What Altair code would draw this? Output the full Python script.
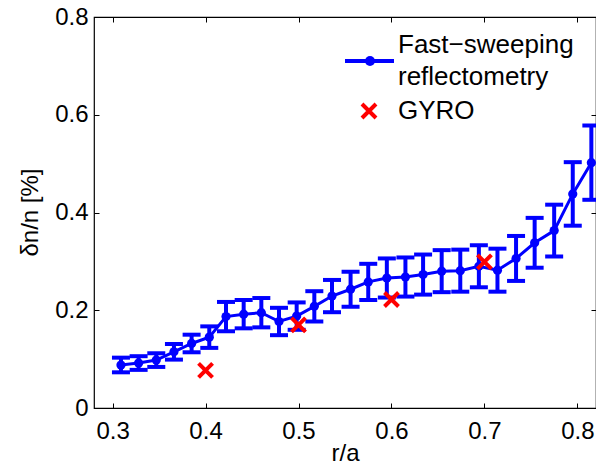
import altair as alt
import pandas as pd

# Fast-sweeping reflectometry profile
r_a = [0.309, 0.328, 0.347, 0.366, 0.385, 0.404, 0.422, 0.441, 0.460, 0.479,
       0.498, 0.517, 0.536, 0.556, 0.575, 0.595, 0.615, 0.634, 0.654, 0.674,
       0.694, 0.714, 0.734, 0.754, 0.775, 0.795, 0.815]
dn_n = [0.088, 0.092, 0.098, 0.115, 0.132, 0.145, 0.187, 0.192, 0.195, 0.177,
        0.188, 0.208, 0.229, 0.243, 0.258, 0.266, 0.268, 0.273, 0.280, 0.281,
        0.290, 0.282, 0.306, 0.338, 0.363, 0.438, 0.502]
dn_err = [0.015, 0.014, 0.014, 0.016, 0.018, 0.022, 0.030, 0.029, 0.030, 0.028,
          0.028, 0.031, 0.033, 0.036, 0.037, 0.040, 0.040, 0.041, 0.043, 0.043,
          0.043, 0.044, 0.046, 0.051, 0.053, 0.065, 0.076]

# GYRO simulation
gyro_r = [0.4, 0.5, 0.6, 0.7]
gyro_dn = [0.077, 0.170, 0.222, 0.299]

x_ticks = [0.3, 0.4, 0.5, 0.6, 0.7, 0.8]
y_ticks = [0.0, 0.2, 0.4, 0.6, 0.8]
legend_lines = ["Fast\u2212sweeping", "reflectometry", "GYRO"]

FONT = "Liberation Sans"
BLUE = "#0000ff"
RED = "#ff0000"

df = pd.DataFrame({"r": r_a, "dn": dn_n, "err": dn_err})
df["lo"] = df["dn"] - df["err"]
df["hi"] = df["dn"] + df["err"]
gdf = pd.DataFrame({"r": gyro_r, "dn": gyro_dn})

xs = alt.Scale(domain=[0.28, 0.82], nice=False)
ys = alt.Scale(domain=[0, 0.8], nice=False)

x_bottom = alt.Axis(orient="bottom", values=x_ticks, format=".1f", offset=-5,
                    tickSize=5, domain=False, grid=False, tickColor="black",
                    labelFont=FONT, labelFontSize=24, labelColor="black",
                    labelPadding=11, title="r/a", titleFont=FONT,
                    titleFontSize=24, titleFontWeight="normal", titleColor="black",
                    titleBaseline="alphabetic", titleY=57)
y_left = alt.Axis(orient="left", values=y_ticks, offset=-5, tickSize=5,
                  domain=False, grid=False, tickColor="black",
                  labelExpr="datum.value == 0 ? '0' : format(datum.value, '.1f')",
                  labelFont=FONT, labelFontSize=24, labelColor="black",
                  labelPadding=6, title="\u03b4n/n [%]", titleFont=FONT,
                  titleFontSize=24, titleFontWeight="normal", titleColor="black",
                  titleBaseline="alphabetic", titleX=-62, titleY=195)
x_top = alt.Axis(orient="top", values=x_ticks, offset=-5, tickSize=5,
                 domain=False, grid=False, labels=False, tickColor="black", title=None)
y_right = alt.Axis(orient="right", values=y_ticks, offset=-5, tickSize=5,
                   domain=False, grid=False, labels=False, tickColor="black", title=None)

base = alt.Chart(df)

rules = base.mark_rule(color=BLUE, strokeWidth=4, opacity=1, clip=True).encode(
    x=alt.X("r:Q", scale=xs, axis=None),
    y=alt.Y("lo:Q", scale=ys, axis=None),
    y2="hi:Q",
)
cap_lo = base.mark_tick(color=BLUE, orient="horizontal", size=18, thickness=4,
                        opacity=1, clip=True).encode(
    x=alt.X("r:Q", scale=xs, axis=None),
    y=alt.Y("lo:Q", scale=ys, axis=None),
)
cap_hi = base.mark_tick(color=BLUE, orient="horizontal", size=18, thickness=4,
                        opacity=1, clip=True).encode(
    x=alt.X("r:Q", scale=xs, axis=None),
    y=alt.Y("hi:Q", scale=ys, axis=None),
)
line = base.mark_line(color=BLUE, strokeWidth=3, clip=True).encode(
    x=alt.X("r:Q", scale=xs, axis=x_bottom),
    y=alt.Y("dn:Q", scale=ys, axis=y_left),
)
dots = base.mark_point(color=BLUE, filled=True, opacity=1, size=85,
                       clip=True).encode(
    x=alt.X("r:Q", scale=xs, axis=x_top),
    y=alt.Y("dn:Q", scale=ys, axis=y_right),
)
XPATH = "M-1,-1L1,1M1,-1L-1,1"
gyro = alt.Chart(gdf).mark_point(shape=XPATH, filled=False, color=RED,
                                 strokeWidth=4, size=196, opacity=1).encode(
    x=alt.X("r:Q", scale=xs, axis=None),
    y=alt.Y("dn:Q", scale=ys, axis=None),
)

# legend (drawn manually, MATLAB style)
one = alt.Chart(pd.DataFrame({"k": [0]}))
leg_line = one.mark_rule(color=BLUE, strokeWidth=4).encode(
    x=alt.value(251), x2=alt.value(300), y=alt.value(44))
leg_dot = one.mark_point(color=BLUE, filled=True, opacity=1, size=100).encode(
    x=alt.value(276), y=alt.value(44))
leg_x = one.mark_point(shape=XPATH, filled=False, color=RED, strokeWidth=4,
                       size=196, opacity=1).encode(x=alt.value(275), y=alt.value(94))
leg_t1 = one.mark_text(font=FONT, fontSize=26, align="left", baseline="alphabetic",
                       color="black").encode(x=alt.value(304), y=alt.value(36),
                                             text=alt.value(legend_lines[0]))
leg_t2 = one.mark_text(font=FONT, fontSize=26, align="left", baseline="alphabetic",
                       color="black").encode(x=alt.value(304), y=alt.value(68),
                                             text=alt.value(legend_lines[1]))
leg_t3 = one.mark_text(font=FONT, fontSize=26, align="left", baseline="alphabetic",
                       color="black").encode(x=alt.value(304), y=alt.value(102),
                                             text=alt.value(legend_lines[2]))

chart = alt.layer(
    line, rules, cap_lo, cap_hi, dots, gyro,
    leg_line, leg_dot, leg_x, leg_t1, leg_t2, leg_t3,
).resolve_axis(x="independent", y="independent").properties(
    width=502, height=391,
    autosize=alt.AutoSizeParams(type="none"),
    padding={"left": 86, "top": 9, "right": 0, "bottom": 56},
    background="white",
).configure_view(stroke="black", strokeWidth=1.2)

chart.save("out.html", embed_options={"renderer": "svg", "actions": False})
